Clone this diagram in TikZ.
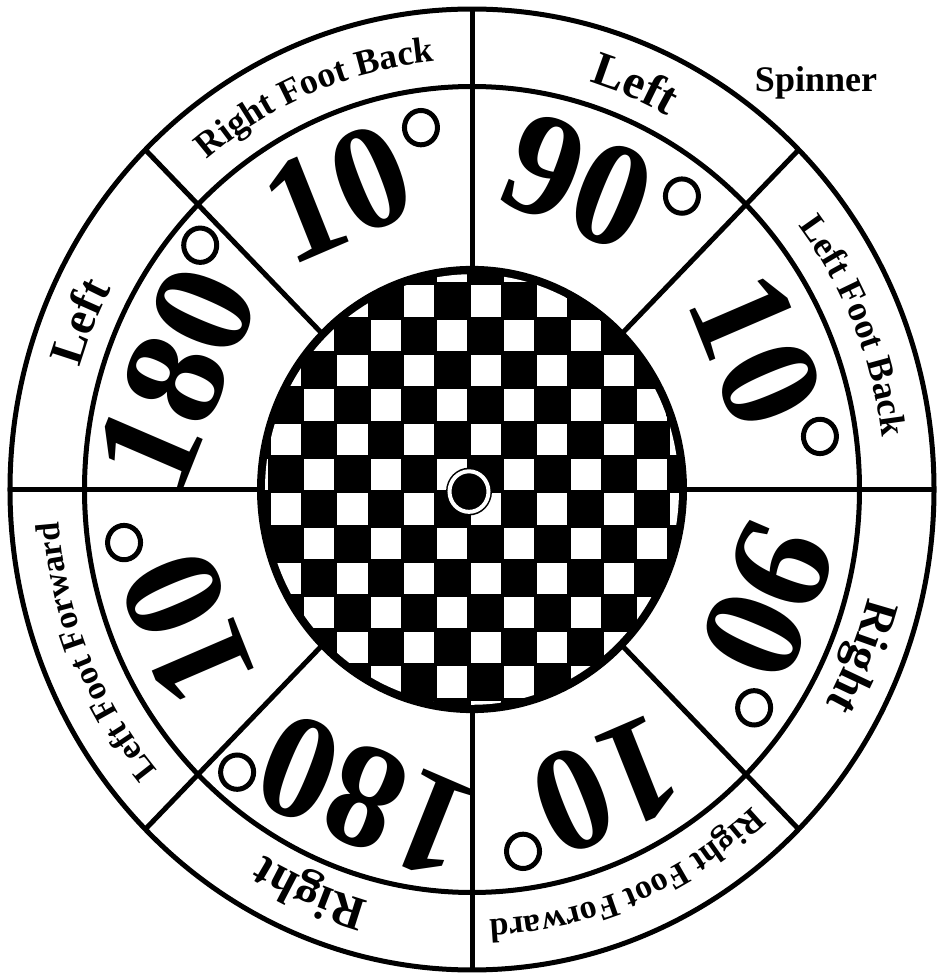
\documentclass[tikz,border=0pt]{standalone}
\usepackage{fontspec}
\setmainfont{Liberation Serif}
\usetikzlibrary{decorations.text}
\tikzset{
  ring/.style={line width=5pt},
  numstyle/.style={transform shape, anchor=base, inner sep=0pt,
    font=\fontsize{144}{144}\selectfont\bfseries},
  degmark/.style={line width=5pt},
  spinlabel/.style={anchor=base, inner sep=0pt, font=\fontsize{36}{36}\selectfont\bfseries}
}
\newcommand\ringlabel[4]{%
  \path[decorate, decoration={text along path, text align={align=center},
    text={|\fontsize{#3}{#3}\selectfont\bfseries|#4}}]
    ({#1+22.5}:#2) arc[start angle={#1+22.5}, end angle={#1-22.5}, radius=#2];}
\newcommand\numlabel[4]{%
  \begin{scope}[rotate={#2-90}]
    \node[numstyle] (#1) at (-15,267) {#3};
    \draw[degmark] (#4,341) circle (16.5);
  \end{scope}}
\begin{document}
\begin{tikzpicture}[x=1pt,y=1pt]
\useasboundingbox (-472,-486.5) rectangle (468,489.5);
\begin{scope}[yscale=1.04]
  % checkered centre
  \fill[black] (0,0) circle (215);
  \begin{scope}
    \clip (0,0) circle (207);
    \foreach \i in {-7,...,6} {
      \foreach \j in {-7,...,6} {
        \pgfmathtruncatemacro\s{mod(\i+\j+20,2)}
        \ifnum\s=1
          \fill[white] ({-3+\i*33.3+1.6},{-2+\j*33.3+1.6}) rectangle ++(30.1,30.1);
        \fi
      }
    }
  \end{scope}
  \fill[black] (-3,-2) circle (23);
  \draw[white, line width=4pt] (-3,-2) circle (19.5);
  % rings and spokes
  \draw[ring] (0,0) circle (462);
  \draw[ring] (0,0) circle (387.5);
  \foreach \a in {0,45,...,315} { \draw[ring] (\a:213) -- (\a:462); }
  % outer labels
  \ringlabel{22.5}{413}{36}{Left Foot Back}
  \ringlabel{67.5}{409}{48}{Left}
  \ringlabel{112.5}{413}{36}{Right Foot Back}
  \ringlabel{157.5}{409}{48}{Left}
  \ringlabel{202.5}{414}{34}{Left Foot Forward}
  \ringlabel{247.5}{409}{48}{Right}
  \ringlabel{292.5}{414}{34}{Right Foot Forward}
  \ringlabel{337.5}{409}{48}{Right}
  % numbers
  \numlabel{na}{22.5}{10}{86}
  \numlabel{nb}{67.5}{90}{86}
  \numlabel{nc}{112.5}{10}{86}
  \numlabel{nd}{157.5}{180}{113}
  \numlabel{ne}{202.5}{10}{86}
  \numlabel{nf}{247.5}{180}{113}
  \numlabel{ng}{292.5}{10}{86}
  \numlabel{nh}{337.5}{90}{86}
\end{scope}
\node[spinlabel] (spin) at (344,397.5) {Spinner};
\end{tikzpicture}
\end{document}
